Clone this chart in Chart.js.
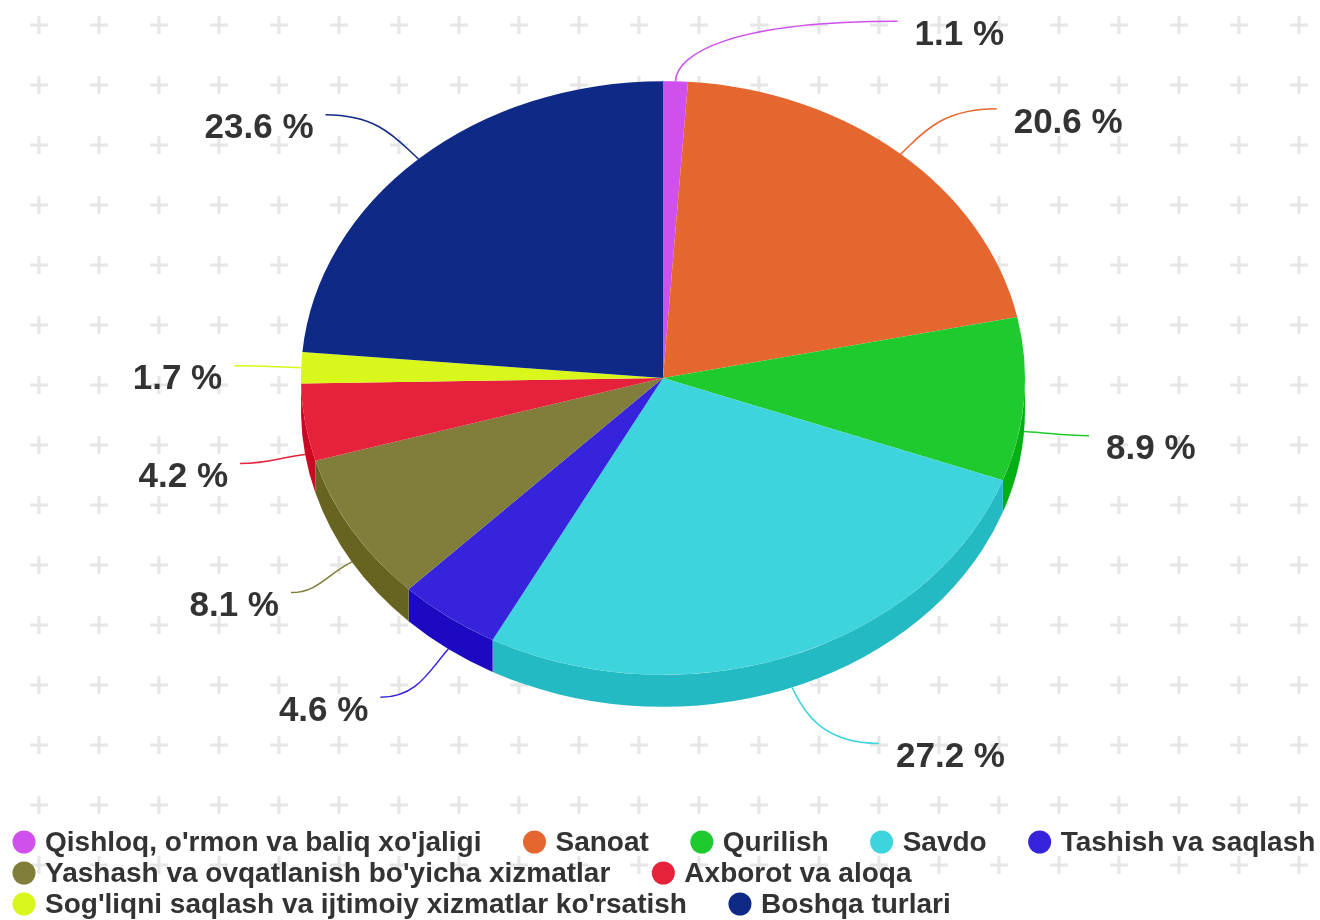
<!DOCTYPE html>
<html>
<head>
<meta charset="utf-8">
<script src="https://cdn.jsdelivr.net/npm/chart.js@4.4.0/dist/chart.umd.min.js"></script>
<style>
  html, body { margin: 0; padding: 0; background: #fff; overflow: hidden; }
  #wrap { width: 1320px; height: 920px; }
</style>
</head>
<body>
<div id="wrap"><canvas id="myChart" width="1320" height="920"></canvas></div>
<script>
// Datos
const categories = [
  "Qishloq, o'rmon va baliq xo'jaligi",
  "Sanoat",
  "Qurilish",
  "Savdo",
  "Tashish va saqlash",
  "Yashash va ovqatlanish bo'yicha xizmatlar",
  "Axborot va aloqa",
  "Sog'liqni saqlash va ijtimoiy xizmatlar ko'rsatish",
  "Boshqa turlari"
];
const shares = [1.1, 20.6, 8.9, 27.2, 4.6, 8.1, 4.2, 1.7, 23.6];
const colors = [
  '#cf50ec', '#e5672f', '#1fca2f', '#3dd4dd', '#3623dc',
  '#817d3a', '#e5213b', '#d9f71b', '#0f2a86'
];

// how far each callout line runs sideways (px)
const labelReach = [222, 96, 65, 87, 68, 61, 65, 67, 93];

const CX = 663, CY = 378, TILT = 0.82, DEPTH = 32;
const FONT = '"Liberation Sans", Arial, sans-serif';

function darker(hex, d) {
  const n = parseInt(hex.slice(1), 16);
  const r = Math.max(0, (n >> 16) - d);
  const g = Math.max(0, ((n >> 8) & 255) - d);
  const b = Math.max(0, (n & 255) - d);
  return 'rgb(' + r + ',' + g + ',' + b + ')';
}

// fondo de cruces
const plusGrid = {
  id: 'plusGrid',
  beforeDraw(chart) {
    const ctx = chart.ctx;
    ctx.save();
    ctx.fillStyle = '#fff';
    ctx.fillRect(0, 0, chart.width, chart.height);
    ctx.strokeStyle = '#e6e6e6';
    ctx.lineWidth = 3;
    for (let x = 39; x < chart.width; x += 60) {
      for (let y = 25; y < chart.height; y += 60) {
        ctx.beginPath();
        ctx.moveTo(x - 9, y); ctx.lineTo(x + 9, y);
        ctx.moveTo(x, y - 9); ctx.lineTo(x, y + 9);
        ctx.stroke();
      }
    }
    ctx.restore();
  }
};

// pastel 3D: lados + cara superior aplastada
const pie3d = {
  id: 'pie3d',
  beforeDatasetsDraw(chart) {
    const ctx = chart.ctx;
    const arcs = chart.getDatasetMeta(0).data;
    arcs.forEach((arc, i) => {
      const r = arc.outerRadius;
      const s = Math.max(arc.startAngle, 0), e = Math.min(arc.endAngle, Math.PI);
      if (e <= s) return;
      ctx.beginPath();
      ctx.ellipse(CX, CY, r, r * TILT, 0, s, e);
      ctx.ellipse(CX, CY + DEPTH, r, r * TILT, 0, e, s, true);
      ctx.closePath();
      ctx.fillStyle = darker(colors[i], 26);
      ctx.fill();
    });
    const a0 = arcs[0];
    ctx.save();
    ctx.translate(CX, CY);
    ctx.scale(1, TILT);
    ctx.translate(-a0.x, -a0.y);
  },
  afterDatasetsDraw(chart) {
    const ctx = chart.ctx;
    ctx.restore();
    const arcs = chart.getDatasetMeta(0).data;
    ctx.save();
    ctx.font = 'bold 35px ' + FONT;
    ctx.textBaseline = 'middle';
    ctx.lineWidth = 1.5;
    arcs.forEach((arc, i) => {
      const r = arc.outerRadius;
      const mid = (arc.startAngle + arc.endAngle) / 2;
      const c = Math.cos(mid), s = Math.sin(mid);
      const ax = CX + r * c;
      const ay = CY + r * TILT * s + (s > 0 ? DEPTH : 0);
      const side = c >= 0 ? 1 : -1;
      const ex = ax + side * labelReach[i];
      const ey = ay + s * 60;
      const len = Math.hypot(c, TILT * s);
      const c1x = ax + c / len * 28, c1y = ay + TILT * s / len * 28;
      ctx.strokeStyle = colors[i];
      ctx.beginPath();
      ctx.moveTo(ax, ay);
      ctx.bezierCurveTo(c1x, c1y, c1x + (ex - c1x) * 0.25, ey, ex, ey);
      ctx.stroke();
      ctx.fillStyle = '#333';
      ctx.textAlign = side > 0 ? 'left' : 'right';
      ctx.fillText(shares[i].toFixed(1) + ' %', ex + side * (side > 0 ? 17 : 12), ey + 14);
    });
    ctx.restore();
  }
};

// leyenda en filas
const flowLegend = {
  id: 'flowLegend',
  afterDraw(chart) {
    const ctx = chart.ctx;
    ctx.save();
    ctx.font = 'bold 28px ' + FONT;
    ctx.textBaseline = 'middle';
    ctx.textAlign = 'left';
    let x = 12, y = 842;
    categories.forEach((name, i) => {
      const w = 33 + ctx.measureText(name).width;
      if (x > 12 && x + w > 1320) { x = 12; y += 31; }
      ctx.beginPath();
      ctx.arc(x + 12, y, 11.5, 0, Math.PI * 2);
      ctx.fillStyle = colors[i];
      ctx.fill();
      ctx.fillStyle = '#333';
      ctx.fillText(name, x + 33, y + 1);
      x += w + 41;
    });
    ctx.restore();
  }
};

new Chart(document.getElementById('myChart'), {
  type: 'pie',
  data: {
    labels: categories,
    datasets: [{
      data: shares,
      backgroundColor: colors,
      borderWidth: 0,
      radius: 362
    }]
  },
  options: {
    responsive: false,
    animation: false,
    events: [],
    plugins: {
      legend: { display: false },
      tooltip: { enabled: false }
    }
  },
  plugins: [plusGrid, pie3d, flowLegend]
});
</script>
</body>
</html>
